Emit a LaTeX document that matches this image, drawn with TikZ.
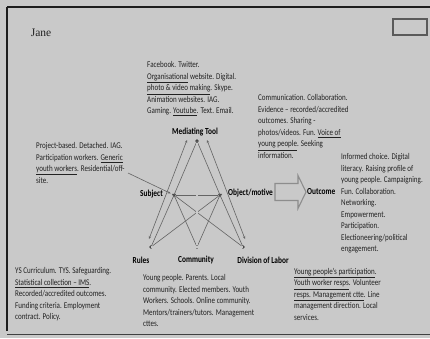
\documentclass[tikz,border=0pt]{standalone}
\usepackage{fontspec}
\setmainfont{Carlito}[FakeStretch=0.8]
\newfontfamily\tagfont{Carlito}[FakeStretch=0.8]
\newfontfamily\janefont{Liberation Serif}
\usetikzlibrary{arrows.meta,shapes.geometric}
\definecolor{paper}{RGB}{201,201,201}
\definecolor{ink}{RGB}{34,34,34}
\definecolor{wire}{RGB}{100,100,100}
\definecolor{frame}{RGB}{30,30,30}

\begin{document}
\begin{tikzpicture}[x=1pt,y=-1pt,
  note/.style={anchor=north west, inner sep=0pt, align=left, text=ink,
    font=\fontsize{8.8}{11.5}\selectfont},
  tag/.style={inner sep=0pt, text=black, font=\tagfont\bfseries\fontsize{9.2}{10}\selectfont},
  dotnode/.style={circle, fill=wire!70!black, inner sep=0pt, minimum size=3.6pt},
  vnode/.style={regular polygon, regular polygon sides=3, shape border rotate=180,
    fill=wire!70!black, inner sep=0pt, minimum size=5pt},
  link/.style={draw=wire, line width=0.6pt},
  twoway/.style={link, {Stealth[length=3pt,width=2.4pt]}-{Stealth[length=3pt,width=2.4pt]}},
  pointer/.style={link, -{Stealth[length=3pt,width=2.4pt]}},
]
% page and frame
\useasboundingbox (0,0) rectangle (430,338);
\fill[paper] (0,0) rectangle (430,338);
\draw[frame, line width=1.8pt] (7,7) -- (431,7);
\draw[frame, line width=1.1pt] (7,7) -- (7,56);
\draw[frame, line width=2.6pt] (7,55) -- (7,331);
\draw[frame!80!paper, line width=1pt] (7,334) -- (431,334);
\draw[wire!90!black, line width=1.3pt] (393,19) rectangle (427,35);

% title
\node[inner sep=0pt, text=ink, font=\janefont\fontsize{11.5}{13}\selectfont] (jane) at (41,33) {Jane};

% activity system points
\node[dotnode] (tool)  at (197,141) {};
\node[vnode]   (subj)  at (174,195) {};
\node[vnode]   (obj)   at (220,195) {};
\node[dotnode] (rules) at (151,247) {};
\node[dotnode] (comm)  at (197,247) {};
\node[dotnode] (div)   at (243,247) {};

% outer guide arrows
\coordinate (lt) at (187,140);
\coordinate (lb) at (149,239);
\coordinate (rt) at (207,140);
\coordinate (rb) at (245,239);
\draw[twoway] (lt) -- (lb);
\draw[twoway] (rt) -- (rb);

% triangle sides
\draw[link] (tool.center) -- (subj.center) -- (rules.center);
\draw[link] (tool.center) -- (obj.center) -- (div.center);
\draw[link, double=paper, double distance=1.1pt, line width=0.45pt] (rules.center) -- (comm.center) -- (div.center);
% inner connections
\draw[link] (subj) -- (obj);
\draw[link] (subj) -- (comm);
\draw[link] (obj) -- (comm);
\draw[link] (subj) -- (div);
\draw[link] (obj) -- (rules);
\draw[link, double=paper, double distance=1.1pt, line width=0.45pt] (tool) -- (comm);

% labels of the points
\node[tag] (toolL)  at (195,132) {Mediating Tool};
\node[tag, anchor=east] (subjL) at (163,194) {Subject};
\node[tag, anchor=west] (objL)  at (228,193) {Object/motive};
\node[tag] (rulesL) at (141,260) {Rules};
\node[tag] (commL)  at (196,260) {Community};
\node[tag] (divL)   at (263,260) {Division of Labor};
\node[tag, anchor=west] (outL) at (307,192) {Outcome};

% transformation arrow
\draw[wire!60!paper, line width=1.1pt, line join=miter]
  (275,183.5) -- (298,183.5) -- (298,175.5) -- (306,192) -- (298,208.5)
  -- (298,200.5) -- (275,200.5) -- cycle;

% descriptions
\node[note] (toolT) at (147,61.5) {Facebook. Twitter.\\
  \underline{Organisational} website. Digital.\\
  \underline{photo \& video making}. Skype.\\
  Animation websites. IAG.\\
  Gaming. \underline{Youtube}. Text. Email.};

\node[note] (objT) at (258,94.5) {Communication. Collaboration.\\
  Evidence -- recorded/accredited\\
  outcomes. Sharing -\\
  photos/videos. Fun. \underline{Voice of}\\
  \underline{young people}. Seeking\\
  information.};

\node[note] (outT) at (341,153.5) {Informed choice. Digital\\
  literacy. Raising profile of\\
  young people. Campaigning.\\
  Fun. Collaboration.\\
  Networking.\\
  Empowerment.\\
  Participation.\\
  Electioneering/political\\
  engagement.};

\node[note] (subjT) at (36,142.5) {Project-based. Detached. IAG.\\
  Participation workers. \underline{Generic}\\
  \underline{youth workers}. Residential/off-\\
  site.};

\node[note] (rulesT) at (15,267.5) {YS Curriculum. TYS. Safeguarding.\\
  \underline{Statistical collection -- IMS}.\\
  Recorded/accredited outcomes.\\
  Funding criteria. Employment\\
  contract. Policy.};

\node[note] (commT) at (143,274.5) {Young people. Parents. Local\\
  community. Elected members. Youth\\
  Workers. Schools. Online community.\\
  Mentors/trainers/tutors. Management\\
  cttes.};

\node[note] (divT) at (294,268) {\underline{Young people's participation}.\\
  \underline{Youth worker resps}. Volunteer\\
  \underline{resps. Management ctte}. Line\\
  management direction. Local\\
  services.};

% pointer from the subject notes
\coordinate (subjN) at (128,173);
\draw[pointer, shorten >=1pt] (subjN) -- (subj);
\end{tikzpicture}
\end{document}
